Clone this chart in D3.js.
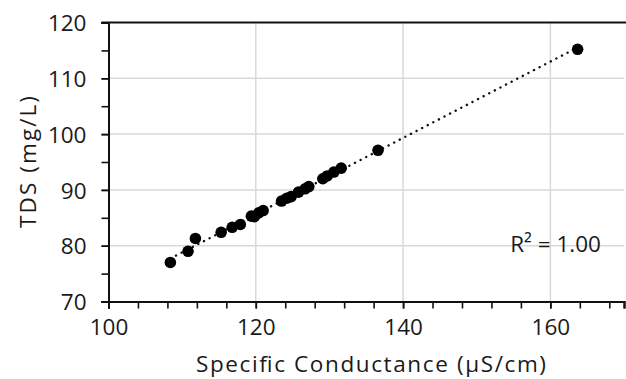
<!DOCTYPE html>
<html>
<head>
<meta charset="utf-8">
<script src="https://cdn.jsdelivr.net/npm/d3@7"></script>
<style>
  html, body { margin: 0; padding: 0; background: #fff; }
  svg text { font-family: "Open Sans", Lato, sans-serif; font-weight: 400; fill: #1a1a1a; }
</style>
</head>
<body>
<svg id="chart" width="626" height="379"></svg>
<script>
// Specific conductance (µS/cm) and total dissolved solids (mg/L) samples
const conductance = [108.4, 110.8, 111.8, 115.3, 116.8, 117.9, 119.4, 119.8, 120.4, 121.0,
                     123.5, 124.2, 124.8, 125.8, 126.7, 127.2, 129.1, 129.7, 130.6, 131.6,
                     136.6, 163.7];
const tds         = [77.0, 79.0, 81.3, 82.4, 83.3, 83.8, 85.3, 85.2, 85.9, 86.3,
                     88.0, 88.5, 88.8, 89.6, 90.2, 90.6, 92.0, 92.5, 93.2, 93.9,
                     97.1, 115.2];
const xTicks = [100, 120, 140, 160];
const yTicks = [70, 80, 90, 100, 110, 120];
const xMinorTicks = d3.range(100, 171, 4);
const yMinorTicks = d3.range(70, 121, 5);
const rSquaredLabel = "R² = 1.00";
const xTitle = "Specific Conductance (µS/cm)";
const yTitle = "TDS (mg/L)";

const svg = d3.select("#chart");
const margin = { left: 108.5, right: 2, top: 22.5, bottom: 77.5 };
const W = 626, H = 379;
const fontSize = 22.5;

const x = d3.scaleLinear().domain([100, 170]).range([margin.left, W - margin.right]);
const y = d3.scaleLinear().domain([70, 120]).range([H - margin.bottom, margin.top]);

// Gridlines
svg.append("g").selectAll("line")
  .data(xTicks.filter(d => d > 100))
  .join("line")
  .attr("x1", d => x(d)).attr("x2", d => x(d))
  .attr("y1", y(70)).attr("y2", y(120))
  .attr("stroke", "#d9d9d9").attr("stroke-width", 1.5);
svg.append("g").selectAll("line")
  .data(yTicks.filter(d => d > 70 && d < 120))
  .join("line")
  .attr("x1", x(100)).attr("x2", x(170))
  .attr("y1", d => y(d)).attr("y2", d => y(d))
  .attr("stroke", "#d9d9d9").attr("stroke-width", 1.5);

// Top frame line
svg.append("line")
  .attr("x1", x(100) - 7).attr("x2", W)
  .attr("y1", y(120)).attr("y2", y(120))
  .attr("stroke", "#111").attr("stroke-width", 2);

// Axes: minor ticks without labels, then labelled major ticks
const xAxisG = svg.append("g").attr("transform", `translate(0,${y(70)})`);
xAxisG.call(d3.axisBottom(x).tickValues(xMinorTicks).tickSize(7).tickFormat(""));
xAxisG.append("g").call(d3.axisBottom(x).tickValues(xTicks).tickSize(7).tickPadding(10).tickFormat(d3.format("d")));

const yAxisG = svg.append("g").attr("transform", `translate(${x(100)},0)`);
yAxisG.call(d3.axisLeft(y).tickValues(yMinorTicks).tickSize(7).tickFormat(""));
yAxisG.append("g").call(d3.axisLeft(y).tickValues(yTicks).tickSize(7).tickPadding(15).tickFormat(d3.format("d")));

svg.selectAll(".domain").attr("stroke", "#111").attr("stroke-width", 2);
svg.selectAll(".tick line").attr("stroke", "#111").attr("stroke-width", 1.6);
svg.selectAll(".tick text")
  .attr("font-size", fontSize)
  .attr("font-family", "'Open Sans', Lato, sans-serif")
  .attr("font-weight", 400)
  .attr("fill", "#1a1a1a");
xAxisG.selectAll(".tick text").attr("dy", "0.72em");
yAxisG.selectAll(".tick text").attr("dy", "0.36em");

// Least-squares trendline across the data range
const n = conductance.length;
const mx = d3.mean(conductance), my = d3.mean(tds);
let sxy = 0, sxx = 0;
for (let i = 0; i < n; i++) {
  sxy += (conductance[i] - mx) * (tds[i] - my);
  sxx += (conductance[i] - mx) ** 2;
}
const slope = sxy / sxx, intercept = my - slope * mx;
const [x0, x1] = d3.extent(conductance);
svg.append("line")
  .attr("x1", x(x0)).attr("y1", y(intercept + slope * x0))
  .attr("x2", x(x1)).attr("y2", y(intercept + slope * x1))
  .attr("stroke", "#111").attr("stroke-width", 2.4)
  .attr("stroke-linecap", "round")
  .attr("stroke-dasharray", "0.1 6.2");

// Data points
svg.append("g").selectAll("circle")
  .data(d3.range(n))
  .join("circle")
  .attr("cx", i => x(conductance[i]))
  .attr("cy", i => y(tds[i]))
  .attr("r", 5.8)
  .attr("fill", "#000");

// R² annotation
svg.append("text")
  .attr("x", 601).attr("y", 252)
  .attr("text-anchor", "end")
  .attr("font-size", fontSize)
  .text(rSquaredLabel);

// Axis titles
svg.append("text")
  .attr("x", 371).attr("y", 372)
  .attr("text-anchor", "middle")
  .attr("font-size", fontSize)
  .attr("textLength", 350)
  .attr("lengthAdjust", "spacing")
  .text(xTitle);
svg.append("text")
  .attr("transform", `translate(36,${(y(70) + y(120)) / 2}) rotate(-90)`)
  .attr("text-anchor", "middle")
  .attr("font-size", fontSize)
  .attr("textLength", 132)
  .attr("lengthAdjust", "spacing")
  .text(yTitle);
</script>
</body>
</html>
